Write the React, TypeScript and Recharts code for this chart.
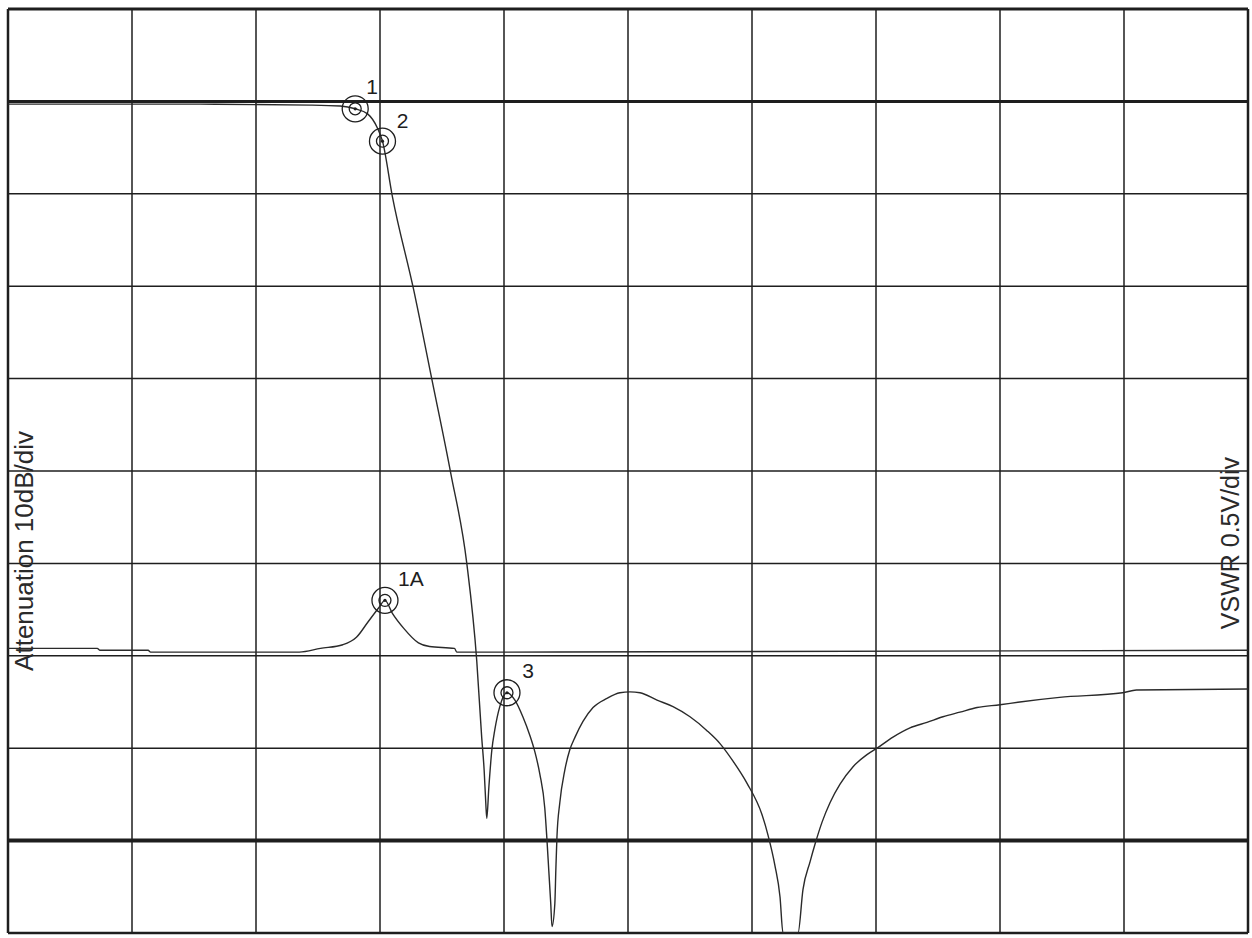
import { LineChart, Line, XAxis, YAxis, ReferenceLine, ReferenceDot } from 'recharts'

const INK = '#1e1e1e'
const FONT = '"Liberation Sans", Arial, sans-serif'

// x axis: frequency in grid divisions
const freqDomain = [0, 10]
const freqTicks = [0, 1, 2, 3, 4, 5, 6, 7, 8, 9, 10]

// attenuation, 10 dB/div
const attDomain = [-90, 10]
const attTicks = [-90, -80, -70, -60, -50, -40, -30, -20, -10, 0, 10]

// VSWR, 0.5/div
const vswrDomain = [-0.5, 4.5]

const attFreq = [
  0, 1.55, 2.44, 2.68, 2.8, 2.9, 2.98, 3.02, 3.1, 3.27,
  3.42, 3.57, 3.7, 3.78, 3.82, 3.84, 3.853, 3.861, 3.878, 3.902,
  3.926, 3.966, 4.024, 4.088, 4.152, 4.208, 4.249, 4.289, 4.329, 4.345,
  4.361, 4.377, 4.387, 4.41, 4.418, 4.427, 4.45, 4.49, 4.53, 4.573,
  4.637, 4.718, 4.831, 4.935, 5.016, 5.097, 5.234, 5.363, 5.5, 5.637,
  5.742, 5.847, 5.96, 6.081, 6.129, 6.185, 6.226, 6.25, 6.371, 6.411,
  6.468, 6.508, 6.565, 6.629, 6.71, 6.815, 6.927, 7.008, 7.137, 7.274,
  7.411, 7.54, 7.677, 7.815, 8.0, 8.16, 8.48, 8.99, 9.1, 10.0,
]
const attDb = [
  -0.3, -0.3, -0.4, -0.5, -0.8, -1.35, -2.9, -4.3, -10.3, -20.3,
  -30.2, -40.2, -50.0, -60.5, -68.8, -72.4, -75.9, -77.6, -74.2, -70.2,
  -68.0, -65.5, -64.0, -64.8, -66.6, -68.6, -70.4, -72.8, -76.5, -79.6,
  -83.2, -86.8, -89.3, -86.8, -83.2, -79.6, -75.9, -72.4, -70.2, -68.8,
  -67.1, -65.6, -64.6, -64.0, -63.9, -64.0, -64.8, -65.5, -66.6, -68.1,
  -69.5, -71.4, -73.8, -77.2, -79.4, -82.7, -86.1, -90, -90, -85.3,
  -82.3, -80.4, -78.0, -75.9, -73.9, -72.0, -70.7, -70.0, -68.8, -67.8,
  -67.2, -66.6, -66.1, -65.6, -65.3, -65.0, -64.5, -64.0, -63.7, -63.6,
]

const vswrFreq = [0, 0.72, 0.74, 1.13, 1.15, 2.35, 2.52, 2.7, 2.81, 2.9, 2.99, 3.04, 3.1, 3.19, 3.31, 3.4, 3.6, 3.62, 10]
const vswrVal = [1.04, 1.04, 1.03, 1.03, 1.02, 1.02, 1.04, 1.06, 1.1, 1.18, 1.26, 1.3, 1.23, 1.15, 1.07, 1.05, 1.04, 1.02, 1.03]

const markerNames = ['1', '2', '3', '1A']
const markerFreq = [2.8, 3.02, 4.024, 3.04]
const markerVal = [-0.8, -4.3, -64.0, 1.3]
const markerAxis = ['att', 'att', 'att', 'vswr']

// where each marker's number sits relative to the circle
const labelOffset: Record<string, [number, number]> = {
  '1': [17, -22],
  '2': [20, -21],
  '3': [21, -22],
  '1A': [26, -22],
}

const attData = attFreq.map((x, i) => ({ x, y: attDb[i] }))
const vswrData = vswrFreq.map((x, i) => ({ x, y: vswrVal[i] }))

function Marker({ cx, cy, name }: any) {
  const [dx, dy] = labelOffset[name]
  return (
    <g>
      <circle cx={cx} cy={cy} r={13} fill="none" stroke={INK} strokeWidth={1.3} />
      <circle cx={cx} cy={cy} r={6} fill="none" stroke={INK} strokeWidth={1.3} />
      <circle cx={cx} cy={cy} r={1.6} fill={INK} />
      <text x={cx + dx} y={cy + dy} textAnchor="middle" dominantBaseline="central"
        fontFamily={FONT} fontSize={21} fill={INK}>{name}</text>
    </g>
  )
}

function sideTitle(text: string, dx: number, frac: number, size: number) {
  return (props: any) => {
    const vb = props.viewBox
    const x = vb.x + dx
    const y = vb.y + vb.height * frac
    return (
      <text x={x} y={y} transform={`rotate(-90, ${x}, ${y})`} textAnchor="middle"
        dominantBaseline="central" fontFamily={FONT} fontSize={size} fill="#2a2a2a">{text}</text>
    )
  }
}

// heavier lines: outer frame, 0 dB reference, VSWR reference
const heavyY: [number, number][] = [[attDomain[1], 3], [attDomain[0], 2.5], [0, 3], [-80, 4]]
const heavyX: [number, number][] = [[freqDomain[0], 2.5], [freqDomain[1], 2.5]]

export default function App() {
  return (
    <div style={{ position: 'absolute', left: 0, top: 0, width: 1252, height: 938, background: '#fff' }}>
      <LineChart width={1252} height={938} data={attData} margin={{ top: 9, right: 3, bottom: 4, left: 7 }}>
        <XAxis type="number" dataKey="x" domain={freqDomain} ticks={freqTicks} height={1}
          tick={false} axisLine={false} tickLine={false} allowDataOverflow />
        <YAxis yAxisId="att" type="number" domain={attDomain} ticks={attTicks} width={1}
          tick={false} axisLine={false} tickLine={false} allowDataOverflow
          label={sideTitle('Attenuation 10dB/div', 17, 0.5865, 26)} />
        <YAxis yAxisId="vswr" orientation="right" type="number" domain={vswrDomain} width={1}
          tick={false} axisLine={false} tickLine={false} allowDataOverflow
          label={sideTitle('VSWR 0.5V/div', -18, 0.578, 25)} />

        {attTicks.map(t => (
          <ReferenceLine key={'h' + t} yAxisId="att" y={t} stroke={INK} strokeWidth={1.5} />
        ))}
        {freqTicks.map(t => (
          <ReferenceLine key={'v' + t} yAxisId="att" x={t} stroke={INK} strokeWidth={1.5} />
        ))}
        {heavyY.map(([v, w]) => (
          <ReferenceLine key={'hy' + v} yAxisId="att" y={v} stroke={INK} strokeWidth={w} />
        ))}
        {heavyX.map(([v, w]) => (
          <ReferenceLine key={'hx' + v} yAxisId="att" x={v} stroke={INK} strokeWidth={w} />
        ))}

        <Line yAxisId="att" data={attData} dataKey="y" type="monotone" stroke="#2a2a2a"
          strokeWidth={1.4} dot={false} isAnimationActive={false} />
        <Line yAxisId="vswr" data={vswrData} dataKey="y" type="monotone" stroke="#2a2a2a"
          strokeWidth={1.4} dot={false} isAnimationActive={false} />

        {markerNames.map((n, i) => (
          <ReferenceDot key={n} yAxisId={markerAxis[i]} x={markerFreq[i]} y={markerVal[i]} r={13}
            ifOverflow="visible" shape={(p: any) => <Marker cx={p.cx} cy={p.cy} name={n} />} />
        ))}
      </LineChart>
    </div>
  )
}
